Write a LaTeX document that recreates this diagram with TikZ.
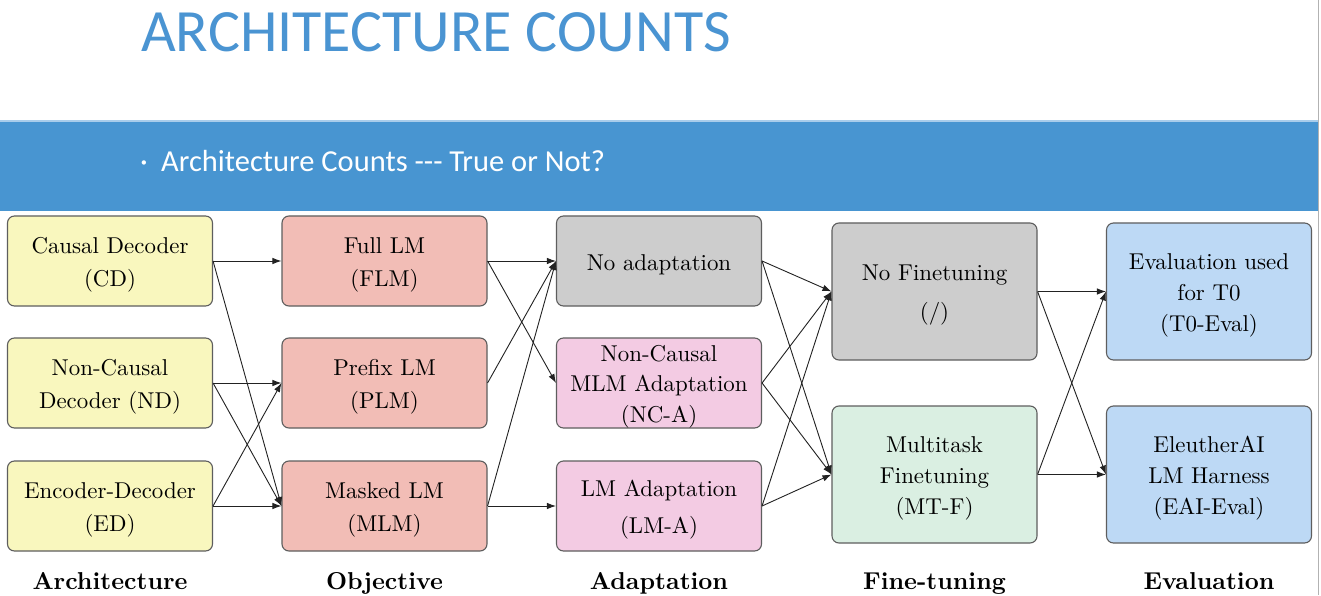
\documentclass[tikz,border=0pt]{standalone}
\usepackage{fontspec}
\newfontfamily\carlito{Carlito}
\newfontfamily\lmten{lmroman10-regular.otf}[BoldFont=lmroman10-bold.otf]
\usetikzlibrary{arrows.meta}
\definecolor{titleblue}{HTML}{4A94D2}
\definecolor{bannerblue}{HTML}{4895D1}
\definecolor{bannerlight}{HTML}{A9CDEB}
\definecolor{boxline}{HTML}{5E5E5E}
\definecolor{archfill}{HTML}{F9F7BE}
\definecolor{objfill}{HTML}{F2BDB6}
\definecolor{grayfill}{HTML}{CDCDCD}
\definecolor{pinkfill}{HTML}{F3CBE3}
\definecolor{greenfill}{HTML}{DAEFE2}
\definecolor{evalfill}{HTML}{BDD9F5}
\definecolor{arrowcol}{HTML}{222222}
\newcommand\fl{\rule{0pt}{22.9pt}}
\begin{document}
\begin{tikzpicture}[x=1pt,y=1pt,
  box/.style={draw=boxline, line width=1.1pt, rounded corners=7pt,
    minimum width=205pt, align=center, inner sep=0pt,
    font=\lmten\fontsize{22.9}{31}\selectfont},
  shortbox/.style={box, minimum height=90pt},
  tallbox/.style={box, minimum height=137pt},
  collabel/.style={anchor=base, font=\lmten\fontsize{24.4}{29}\selectfont\bfseries},
  link/.style={draw=arrowcol, line width=0.9pt, -{Latex[length=9pt,width=6.5pt]}}
]
\useasboundingbox (0,0) rectangle (1321,595);
\fill[white] (0,0) rectangle (1321,595);
% right edge line
\draw[gray!60, line width=1pt] (1318.5,0) -- (1318.5,595);
% title
\node[anchor=base west, inner sep=0pt, text=titleblue,
  font=\carlito\fontsize{60}{70}\selectfont] (title) at (141,543) {ARCHITECTURE COUNTS};
% banner
\fill[bannerblue] (0,384) rectangle (1318,474);
\draw[bannerlight, line width=1.2pt] (0,474) -- (1318,474);
\node[anchor=base west, inner sep=0pt, text=white,
  font=\carlito\fontsize{30.5}{36}\selectfont] (bullet) at (140,423) {·};
\node[anchor=base west, inner sep=0pt, text=white,
  font=\carlito\fontsize{30.5}{36}\selectfont] (sub) at (161,423) {Architecture Counts --- True or Not?};

% column 1: architecture
\node[shortbox, fill=archfill] (CD) at (110,334) {\fl Causal Decoder\\[2pt](CD)};
\node[shortbox, fill=archfill] (ND) at (110,212) {\fl Non-Causal\\[2pt]Decoder (ND)};
\node[shortbox, fill=archfill] (ED) at (110,89) {\fl Encoder-Decoder\\[2pt](ED)};
% column 2: objective
\node[shortbox, fill=objfill] (FLM) at (384.5,334) {\fl Full LM\\[2pt](FLM)};
\node[shortbox, fill=objfill] (PLM) at (384.5,212) {\fl Prefix LM\\[2pt](PLM)};
\node[shortbox, fill=objfill] (MLM) at (384.5,89) {\fl Masked LM\\[2pt](MLM)};
% column 3: adaptation
\node[shortbox, fill=grayfill] (NOA) at (659,334) {\fl No adaptation};
\node[shortbox, fill=pinkfill] (NCA) at (659,212) {\fl Non-Causal\\[-1pt]MLM Adaptation\\(NC-A)};
\node[shortbox, fill=pinkfill] (LMA) at (659,89) {\fl LM Adaptation\\[6pt](LM-A)};
% column 4: fine-tuning
\node[tallbox, fill=grayfill] (NOFT) at (934.5,303.5) {\fl No Finetuning\\[8pt](/)};
\node[tallbox, fill=greenfill] (MTF) at (934.5,120.5) {\fl Multitask\\Finetuning\\(MT-F)};
% column 5: evaluation
\node[tallbox, fill=evalfill] (T0) at (1209,303.5) {\fl Evaluation used\\for T0\\(T0-Eval)};
\node[tallbox, fill=evalfill] (EAI) at (1209,120.5) {\fl EleutherAI\\LM Harness\\(EAI-Eval)};

% column labels
\node[collabel] (L1) at (110,6) {Architecture};
\node[collabel] (L2) at (384.5,6) {Objective};
\node[collabel] (L3) at (659,6) {Adaptation};
\node[collabel] (L4) at (934.5,6) {Fine-tuning};
\node[collabel] (L5) at (1209,6) {Evaluation};

% connectors
\foreach \a/\b in {CD/FLM, CD/MLM, ND/PLM, ND/MLM, ED/PLM, ED/MLM,
  FLM/NOA, FLM/NCA, PLM/NOA, MLM/NOA, MLM/LMA,
  NOA/NOFT, NOA/MTF, NCA/NOFT, NCA/MTF, LMA/NOFT, LMA/MTF,
  NOFT/T0, NOFT/EAI, MTF/T0, MTF/EAI}
  \draw[link] (\a.east) -- (\b.west);
\end{tikzpicture}
\end{document}
